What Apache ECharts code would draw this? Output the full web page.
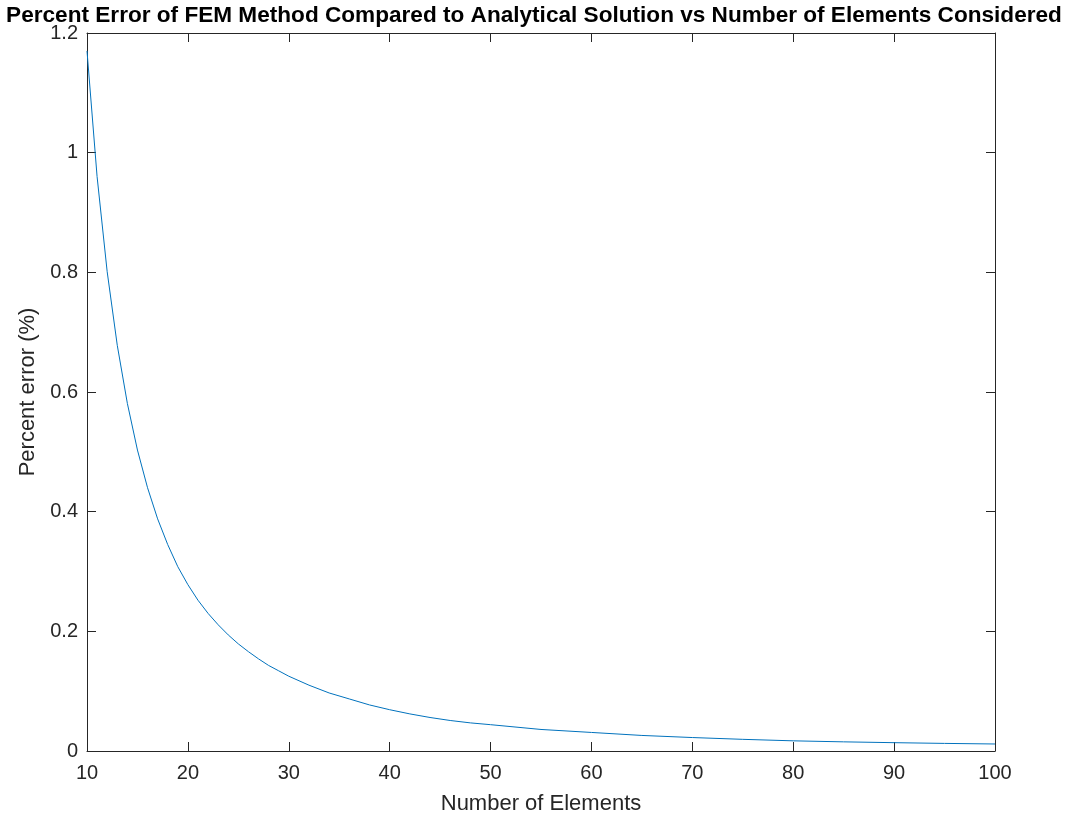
<!DOCTYPE html>
<html>
<head>
<meta charset="utf-8">
<script src="https://cdn.jsdelivr.net/npm/echarts@6/dist/echarts.min.js"></script>
<style>
  html, body { margin: 0; padding: 0; background: #fff; }
  #chart { width: 1068px; height: 816px; }
</style>
</head>
<body>
<div id="chart"></div>
<script>
// number of elements (x) and percent error (y)
const elements = [10, 11, 12, 13, 14, 15, 16, 17, 18, 19, 20,
  21, 22, 23, 24, 25, 26, 27, 28, 29, 30,
  32, 34, 36, 38, 40, 42, 44, 46, 48, 50,
  55, 60, 65, 70, 75, 80, 85, 90, 95, 100]
const percentError = [1.170, 0.960, 0.801, 0.678, 0.581, 0.503, 0.440, 0.388, 0.345, 0.308, 0.278,
  0.252, 0.230, 0.211, 0.194, 0.179, 0.166, 0.154, 0.143, 0.134, 0.125,
  0.110, 0.097, 0.087, 0.077, 0.069, 0.062, 0.056, 0.051, 0.047, 0.044,
  0.036, 0.031, 0.026, 0.0225, 0.0195, 0.017, 0.0153, 0.0139, 0.0127, 0.0117]

const axisColor = '#262626'
const fontFamily = '"Liberation Sans", Arial, sans-serif'

const chart = echarts.init(document.getElementById('chart'))

const boxAxis = {
  axisLine: { show: true, onZero: false, lineStyle: { color: axisColor, width: 1 } },
  axisTick: { show: true, inside: true, length: 9, lineStyle: { color: axisColor } },
  splitLine: { show: false }
}

chart.setOption({
  animation: false,
  title: {
    text: 'Percent Error of FEM Method Compared to Analytical Solution vs Number of Elements Considered',
    left: 'center',
    top: -1,
    textStyle: { fontFamily, fontSize: 22.6, fontWeight: 'bold', color: '#000' }
  },
  grid: { left: 87, right: 73, top: 33, bottom: 65, outerBoundsMode: 'none' },
  xAxis: [{
    type: 'value',
    min: 10,
    max: 100,
    interval: 10,
    name: 'Number of Elements',
    nameLocation: 'middle',
    nameGap: 42,
    nameTextStyle: { fontFamily, fontSize: 22, color: axisColor },
    axisLabel: { fontFamily, fontSize: 20, color: axisColor, margin: 12 },
    ...boxAxis
  }, {
    type: 'value',
    position: 'top',
    min: 10,
    max: 100,
    interval: 10,
    axisLabel: { show: false },
    ...boxAxis
  }],
  yAxis: [{
    type: 'value',
    min: 0,
    max: 1.2,
    interval: 0.2,
    name: 'Percent error (%)',
    nameLocation: 'middle',
    nameGap: 44,
    nameTextStyle: { fontFamily, fontSize: 22, color: axisColor },
    axisLabel: { fontFamily, fontSize: 20, color: axisColor, margin: 9 },
    ...boxAxis
  }, {
    type: 'value',
    position: 'right',
    min: 0,
    max: 1.2,
    interval: 0.2,
    axisLabel: { show: false },
    ...boxAxis
  }],
  series: [{
    type: 'line',
    data: elements.map((n, i) => [n, percentError[i]]),
    showSymbol: false,
    smooth: false,
    lineStyle: { color: '#0072BD', width: 1 },
    clip: true
  }]
})
</script>
</body>
</html>
